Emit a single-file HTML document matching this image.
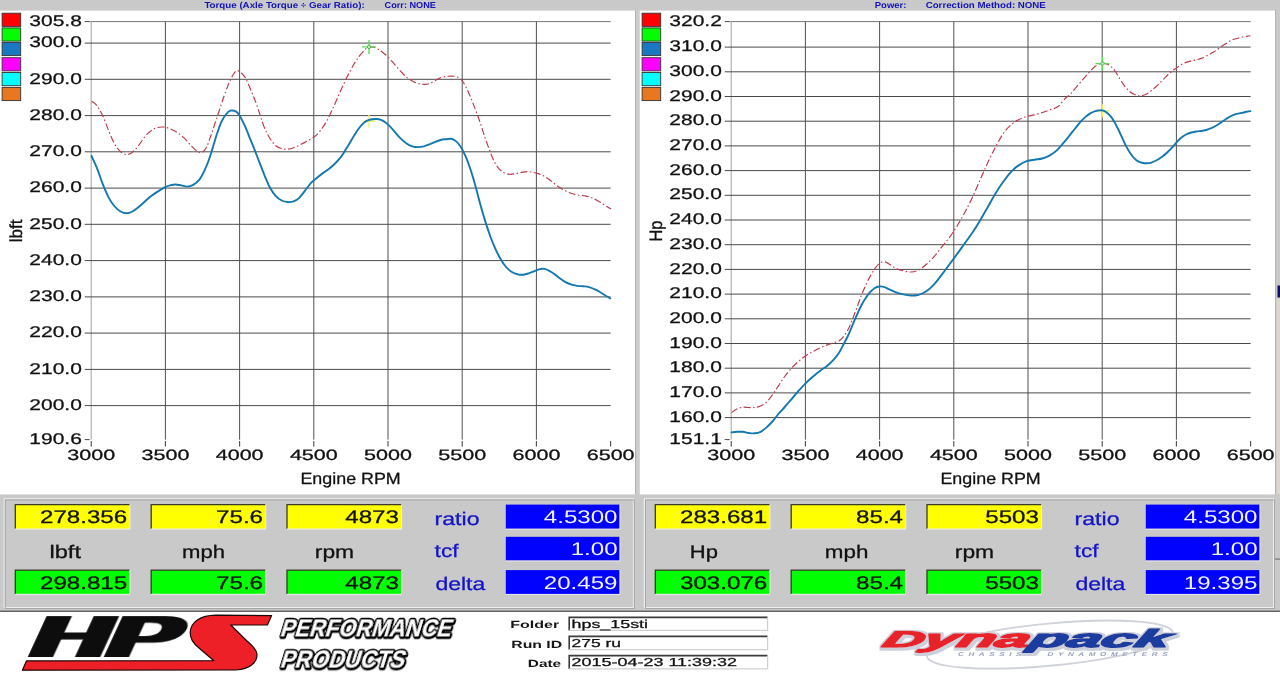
<!DOCTYPE html>
<html lang="en"><head><meta charset="utf-8"><title>Dynapack dyno chart</title>
<style>html,body{margin:0;padding:0;background:#fff;overflow:hidden}svg{display:block}text{white-space:pre}</style></head>
<body>
<svg width="1280" height="674" viewBox="0 0 1280 674" font-family="'Liberation Sans', sans-serif" text-rendering="geometricPrecision">
<rect width="1280" height="674" fill="#fff"/>
<g opacity="0.999">
<rect x="0" y="0" width="1280" height="10.6" fill="#c9c9c9"/>
<rect x="635.2" y="10" width="4.6" height="486" fill="#cdcdcd"/>
<rect x="635.0" y="10.6" width="1.1" height="484" fill="#b2b2b2"/>
<rect x="1275.3" y="10" width="5" height="550" fill="#c9c9c9"/>
<rect x="1275" y="10" width="1" height="549" fill="#b4b4b4"/>
<rect x="1277.5" y="285.5" width="3" height="12" fill="#101060"/>
<rect x="1276.5" y="298" width="4" height="196" fill="#dcd6cc"/>
<rect x="2.1" y="13.2" width="18.6" height="13.2" fill="#ff0000" stroke="#333" stroke-width="0.9"/>
<rect x="2.1" y="27.9" width="18.6" height="13.2" fill="#00ff00" stroke="#333" stroke-width="0.9"/>
<rect x="2.1" y="42.4" width="18.6" height="13.2" fill="#1a78c0" stroke="#333" stroke-width="0.9"/>
<rect x="2.1" y="57.7" width="18.6" height="13.2" fill="#ff00ff" stroke="#333" stroke-width="0.9"/>
<rect x="2.1" y="72.5" width="18.6" height="13.2" fill="#00ffff" stroke="#333" stroke-width="0.9"/>
<rect x="2.1" y="87.4" width="18.6" height="13.2" fill="#e87820" stroke="#333" stroke-width="0.9"/>
<path d="M91.2,439.6V21.6" fill="none" stroke="#b0b0b0" stroke-width="1.2"/>
<path d="M91.2,21.6H610.6" fill="none" stroke="#747474" stroke-width="1"/>
<path d="M84.7,43.1H610.6M84.7,79.3H610.6M84.7,115.6H610.6M84.7,151.8H610.6M84.7,188.1H610.6M84.7,224.3H610.6M84.7,260.6H610.6M84.7,296.9H610.6M84.7,333.1H610.6M84.7,369.4H610.6M84.7,405.6H610.6" fill="none" stroke="#4a4a4a" stroke-width="1.0"/>
<path d="M165.4,21.6V439.6M239.6,21.6V439.6M313.8,21.6V439.6M388.0,21.6V439.6M462.2,21.6V439.6M536.4,21.6V439.6" fill="none" stroke="#505050" stroke-width="1.0"/>
<path d="M84.7,21.6H90.4M84.7,439.6H89.7" stroke="#4a4a4a" stroke-width="1.0"/>
<path d="M91.2,441.0v5.6M165.4,441.0v5.6M239.6,441.0v5.6M313.8,441.0v5.6M388.0,441.0v5.6M462.2,441.0v5.6M536.4,441.0v5.6M610.6,441.0v5.6" stroke="#4a4a4a" stroke-width="1.1"/>
<text transform="translate(29.30,25.75) scale(1.3553,1)" font-size="15.49" fill="#111" stroke="#111" stroke-width="0.28">305.8</text>
<text transform="translate(29.30,47.25) scale(1.3553,1)" font-size="15.49" fill="#111" stroke="#111" stroke-width="0.28">300.0</text>
<text transform="translate(29.30,83.50) scale(1.3553,1)" font-size="15.49" fill="#111" stroke="#111" stroke-width="0.28">290.0</text>
<text transform="translate(29.30,119.75) scale(1.3553,1)" font-size="15.49" fill="#111" stroke="#111" stroke-width="0.28">280.0</text>
<text transform="translate(29.30,156.00) scale(1.3553,1)" font-size="15.49" fill="#111" stroke="#111" stroke-width="0.28">270.0</text>
<text transform="translate(29.30,192.25) scale(1.3553,1)" font-size="15.49" fill="#111" stroke="#111" stroke-width="0.28">260.0</text>
<text transform="translate(29.30,228.50) scale(1.3553,1)" font-size="15.49" fill="#111" stroke="#111" stroke-width="0.28">250.0</text>
<text transform="translate(29.30,264.75) scale(1.3553,1)" font-size="15.49" fill="#111" stroke="#111" stroke-width="0.28">240.0</text>
<text transform="translate(29.30,301.00) scale(1.3553,1)" font-size="15.49" fill="#111" stroke="#111" stroke-width="0.28">230.0</text>
<text transform="translate(29.30,337.25) scale(1.3553,1)" font-size="15.49" fill="#111" stroke="#111" stroke-width="0.28">220.0</text>
<text transform="translate(29.30,373.50) scale(1.3553,1)" font-size="15.49" fill="#111" stroke="#111" stroke-width="0.28">210.0</text>
<text transform="translate(29.30,409.75) scale(1.3553,1)" font-size="15.49" fill="#111" stroke="#111" stroke-width="0.28">200.0</text>
<text transform="translate(29.30,443.75) scale(1.3553,1)" font-size="15.49" fill="#111" stroke="#111" stroke-width="0.28">190.6</text>
<text transform="translate(67.30,460.35) scale(1.4420,1)" font-size="14.93" fill="#111" stroke="#111" stroke-width="0.28">3000</text>
<text transform="translate(141.50,460.35) scale(1.4420,1)" font-size="14.93" fill="#111" stroke="#111" stroke-width="0.28">3500</text>
<text transform="translate(215.70,460.35) scale(1.4420,1)" font-size="14.93" fill="#111" stroke="#111" stroke-width="0.28">4000</text>
<text transform="translate(289.90,460.35) scale(1.4420,1)" font-size="14.93" fill="#111" stroke="#111" stroke-width="0.28">4500</text>
<text transform="translate(364.10,460.35) scale(1.4420,1)" font-size="14.93" fill="#111" stroke="#111" stroke-width="0.28">5000</text>
<text transform="translate(438.30,460.35) scale(1.4420,1)" font-size="14.93" fill="#111" stroke="#111" stroke-width="0.28">5500</text>
<text transform="translate(512.50,460.35) scale(1.4420,1)" font-size="14.93" fill="#111" stroke="#111" stroke-width="0.28">6000</text>
<text transform="translate(586.70,460.35) scale(1.4420,1)" font-size="14.93" fill="#111" stroke="#111" stroke-width="0.28">6500</text>
<text transform="translate(300.40,484.00) scale(1.0981,1)" font-size="16.30" fill="#111" stroke="#111" stroke-width="0.28">Engine RPM</text>
<rect x="642.1" y="13.2" width="18.6" height="13.2" fill="#ff0000" stroke="#333" stroke-width="0.9"/>
<rect x="642.1" y="27.9" width="18.6" height="13.2" fill="#00ff00" stroke="#333" stroke-width="0.9"/>
<rect x="642.1" y="42.4" width="18.6" height="13.2" fill="#1a78c0" stroke="#333" stroke-width="0.9"/>
<rect x="642.1" y="57.7" width="18.6" height="13.2" fill="#ff00ff" stroke="#333" stroke-width="0.9"/>
<rect x="642.1" y="72.5" width="18.6" height="13.2" fill="#00ffff" stroke="#333" stroke-width="0.9"/>
<rect x="642.1" y="87.4" width="18.6" height="13.2" fill="#e87820" stroke="#333" stroke-width="0.9"/>
<path d="M731.2,439.6V21.6" fill="none" stroke="#b0b0b0" stroke-width="1.2"/>
<path d="M731.2,21.6H1250.6" fill="none" stroke="#747474" stroke-width="1"/>
<path d="M724.7,47.1H1250.6M724.7,71.8H1250.6M724.7,96.5H1250.6M724.7,121.2H1250.6M724.7,145.9H1250.6M724.7,170.6H1250.6M724.7,195.3H1250.6M724.7,220.0H1250.6M724.7,244.7H1250.6M724.7,269.4H1250.6M724.7,294.1H1250.6M724.7,318.8H1250.6M724.7,343.5H1250.6M724.7,368.2H1250.6M724.7,392.9H1250.6M724.7,417.6H1250.6" fill="none" stroke="#4a4a4a" stroke-width="1.0"/>
<path d="M805.4,21.6V439.6M879.6,21.6V439.6M953.8,21.6V439.6M1028.0,21.6V439.6M1102.2,21.6V439.6M1176.4,21.6V439.6" fill="none" stroke="#505050" stroke-width="1.0"/>
<path d="M724.7,21.6H730.4M724.7,439.6H729.7" stroke="#4a4a4a" stroke-width="1.0"/>
<path d="M731.2,441.0v5.6M805.4,441.0v5.6M879.6,441.0v5.6M953.8,441.0v5.6M1028.0,441.0v5.6M1102.2,441.0v5.6M1176.4,441.0v5.6M1250.6,441.0v5.6" stroke="#4a4a4a" stroke-width="1.1"/>
<text transform="translate(669.30,25.75) scale(1.3553,1)" font-size="15.49" fill="#111" stroke="#111" stroke-width="0.28">320.2</text>
<text transform="translate(669.30,51.25) scale(1.3553,1)" font-size="15.49" fill="#111" stroke="#111" stroke-width="0.28">310.0</text>
<text transform="translate(669.30,75.95) scale(1.3553,1)" font-size="15.49" fill="#111" stroke="#111" stroke-width="0.28">300.0</text>
<text transform="translate(669.30,100.65) scale(1.3553,1)" font-size="15.49" fill="#111" stroke="#111" stroke-width="0.28">290.0</text>
<text transform="translate(669.30,125.35) scale(1.3553,1)" font-size="15.49" fill="#111" stroke="#111" stroke-width="0.28">280.0</text>
<text transform="translate(669.30,150.05) scale(1.3553,1)" font-size="15.49" fill="#111" stroke="#111" stroke-width="0.28">270.0</text>
<text transform="translate(669.30,174.75) scale(1.3553,1)" font-size="15.49" fill="#111" stroke="#111" stroke-width="0.28">260.0</text>
<text transform="translate(669.30,199.45) scale(1.3553,1)" font-size="15.49" fill="#111" stroke="#111" stroke-width="0.28">250.0</text>
<text transform="translate(669.30,224.15) scale(1.3553,1)" font-size="15.49" fill="#111" stroke="#111" stroke-width="0.28">240.0</text>
<text transform="translate(669.30,248.85) scale(1.3553,1)" font-size="15.49" fill="#111" stroke="#111" stroke-width="0.28">230.0</text>
<text transform="translate(669.30,273.55) scale(1.3553,1)" font-size="15.49" fill="#111" stroke="#111" stroke-width="0.28">220.0</text>
<text transform="translate(669.30,298.25) scale(1.3553,1)" font-size="15.49" fill="#111" stroke="#111" stroke-width="0.28">210.0</text>
<text transform="translate(669.30,322.95) scale(1.3553,1)" font-size="15.49" fill="#111" stroke="#111" stroke-width="0.28">200.0</text>
<text transform="translate(669.30,347.65) scale(1.3553,1)" font-size="15.49" fill="#111" stroke="#111" stroke-width="0.28">190.0</text>
<text transform="translate(669.30,372.35) scale(1.3553,1)" font-size="15.49" fill="#111" stroke="#111" stroke-width="0.28">180.0</text>
<text transform="translate(669.30,397.05) scale(1.3553,1)" font-size="15.49" fill="#111" stroke="#111" stroke-width="0.28">170.0</text>
<text transform="translate(669.30,421.75) scale(1.3553,1)" font-size="15.49" fill="#111" stroke="#111" stroke-width="0.28">160.0</text>
<text transform="translate(669.30,443.74) scale(1.3362,1)" font-size="15.71" fill="#111" stroke="#111" stroke-width="0.28">151.1</text>
<text transform="translate(707.30,460.35) scale(1.4420,1)" font-size="14.93" fill="#111" stroke="#111" stroke-width="0.28">3000</text>
<text transform="translate(781.50,460.35) scale(1.4420,1)" font-size="14.93" fill="#111" stroke="#111" stroke-width="0.28">3500</text>
<text transform="translate(855.70,460.35) scale(1.4420,1)" font-size="14.93" fill="#111" stroke="#111" stroke-width="0.28">4000</text>
<text transform="translate(929.90,460.35) scale(1.4420,1)" font-size="14.93" fill="#111" stroke="#111" stroke-width="0.28">4500</text>
<text transform="translate(1004.10,460.35) scale(1.4420,1)" font-size="14.93" fill="#111" stroke="#111" stroke-width="0.28">5000</text>
<text transform="translate(1078.30,460.35) scale(1.4420,1)" font-size="14.93" fill="#111" stroke="#111" stroke-width="0.28">5500</text>
<text transform="translate(1152.50,460.35) scale(1.4420,1)" font-size="14.93" fill="#111" stroke="#111" stroke-width="0.28">6000</text>
<text transform="translate(1226.70,460.35) scale(1.4420,1)" font-size="14.93" fill="#111" stroke="#111" stroke-width="0.28">6500</text>
<text transform="translate(940.40,484.00) scale(1.0981,1)" font-size="16.30" fill="#111" stroke="#111" stroke-width="0.28">Engine RPM</text>
<path d="M91.5,101.2C92.4,101.9 95.0,103.1 96.9,105.6C98.8,108.1 100.8,111.8 102.8,116.0C104.8,120.2 106.7,126.1 108.7,130.8C110.7,135.5 112.7,140.7 114.7,144.2C116.7,147.7 118.6,149.9 120.6,151.6C122.6,153.3 124.5,154.5 126.5,154.6C128.5,154.7 130.4,153.7 132.4,152.2C134.4,150.7 136.4,148.2 138.4,145.7C140.4,143.2 142.3,139.8 144.3,137.4C146.3,135.0 148.2,133.0 150.2,131.4C152.2,129.8 154.1,128.6 156.2,127.9C158.3,127.2 160.5,126.9 162.7,127.0C164.9,127.1 167.1,127.6 169.5,128.5C171.9,129.4 174.4,130.7 176.9,132.3C179.4,133.9 181.8,135.9 184.3,138.2C186.8,140.5 189.6,144.1 191.8,146.3C194.0,148.5 196.0,150.6 197.7,151.6C199.4,152.6 200.6,153.2 202.1,152.5C203.6,151.8 205.1,150.0 206.6,147.1C208.1,144.2 209.5,139.5 211.0,135.3C212.5,131.1 214.0,126.4 215.5,121.9C217.0,117.5 218.4,113.0 219.9,108.6C221.4,104.1 222.9,99.4 224.4,95.2C225.9,91.0 227.3,86.9 228.8,83.4C230.3,80.0 231.8,76.6 233.3,74.5C234.8,72.4 235.7,70.1 237.7,70.6C239.7,71.1 242.9,74.0 245.1,77.4C247.3,80.8 249.1,86.1 251.1,90.8C253.1,95.5 254.9,99.7 257.0,105.6C259.1,111.5 261.8,121.0 263.9,126.4C266.0,131.8 267.8,135.0 269.8,138.2C271.8,141.4 273.8,144.0 275.8,145.7C277.8,147.4 279.7,148.0 281.7,148.6C283.7,149.2 285.6,149.3 287.6,149.2C289.6,149.0 291.6,148.4 293.6,147.7C295.6,147.0 297.3,146.2 299.5,145.1C301.7,144.0 304.4,142.6 306.9,141.2C309.4,139.8 312.1,138.5 314.3,136.8C316.5,135.1 318.2,133.3 320.2,130.8C322.2,128.3 324.2,125.4 326.2,121.9C328.2,118.5 330.1,114.3 332.1,110.1C334.1,105.9 336.0,101.2 338.0,96.7C340.0,92.2 342.0,87.6 344.0,83.4C346.0,79.2 347.9,75.2 349.9,71.5C351.9,67.8 353.8,64.2 355.8,61.1C357.8,58.0 360.1,55.2 361.8,53.1C363.5,51.0 364.9,49.4 366.2,48.4C367.5,47.4 368.6,47.1 369.8,46.9C371.0,46.7 372.2,46.8 373.6,47.2C375.0,47.6 376.6,48.5 378.1,49.3C379.6,50.1 380.8,50.9 382.5,52.2C384.2,53.5 386.5,55.3 388.5,57.3C390.5,59.3 392.4,61.8 394.4,64.1C396.4,66.4 398.3,68.8 400.3,70.9C402.3,73.0 404.2,75.2 406.2,76.9C408.2,78.6 410.2,79.9 412.2,81.0C414.2,82.1 416.1,82.9 418.1,83.4C420.1,84.0 422.0,84.3 424.0,84.3C426.0,84.3 427.3,84.5 430.0,83.4C432.7,82.3 437.4,79.0 440.4,77.8C443.4,76.6 445.9,76.5 448.2,76.3C450.5,76.0 452.1,76.0 454.0,76.3C455.9,76.6 458.1,77.1 459.7,78.2C461.3,79.3 462.2,80.5 463.6,82.8C465.0,85.0 466.6,88.2 468.2,91.7C469.8,95.2 471.5,99.5 473.3,104.1C475.1,108.7 477.2,114.0 479.1,119.5C481.0,125.0 483.0,131.6 484.8,136.9C486.6,142.2 488.3,147.0 489.9,151.2C491.5,155.4 493.0,159.1 494.5,162.0C496.0,164.9 497.5,167.1 499.1,168.9C500.7,170.7 502.4,171.9 504.2,172.8C506.0,173.7 508.0,174.2 509.9,174.3C511.8,174.4 513.8,173.9 515.7,173.6C517.6,173.3 519.6,172.7 521.5,172.4C523.4,172.1 525.4,171.6 527.3,171.6C529.2,171.6 531.2,172.0 533.1,172.4C535.0,172.8 537.0,173.2 538.9,173.9C540.8,174.6 542.8,175.5 544.7,176.6C546.6,177.7 548.6,179.1 550.5,180.5C552.4,181.9 554.4,183.7 556.3,185.1C558.2,186.5 560.2,187.8 562.1,189.0C564.0,190.2 566.0,191.3 567.9,192.1C569.8,192.9 571.7,193.5 573.6,194.0C575.5,194.5 577.5,194.9 579.4,195.2C581.3,195.5 583.3,195.5 585.2,195.9C587.1,196.3 589.1,196.8 591.0,197.5C592.9,198.2 594.9,199.2 596.8,200.2C598.7,201.2 600.7,202.5 602.6,203.7C604.5,204.9 607.0,206.6 608.4,207.5C609.8,208.4 610.6,208.8 611.0,209.1" fill="none" stroke="#c03848" stroke-width="1.15" stroke-dasharray="7 2.5 1.5 2.5"/>
<path d="M362.5,121.2h13.0M369.0,114.7v13.0" stroke="#f2f264" stroke-width="1.4" fill="none"/>
<path d="M91.5,156.0C92.4,158.0 95.0,163.2 96.9,167.9C98.8,172.6 100.8,179.2 102.8,184.2C104.8,189.1 106.7,193.9 108.7,197.6C110.7,201.3 112.7,204.2 114.7,206.5C116.7,208.8 118.6,210.4 120.6,211.5C122.6,212.6 124.5,213.3 126.5,213.3C128.5,213.3 130.4,212.5 132.4,211.5C134.4,210.5 136.4,208.9 138.4,207.3C140.4,205.7 142.3,203.8 144.3,202.0C146.3,200.2 148.0,198.4 150.2,196.7C152.4,195.0 155.2,193.2 157.7,191.6C160.2,190.0 162.9,188.3 165.1,187.2C167.3,186.1 169.3,185.5 171.0,185.1C172.7,184.7 173.8,184.4 175.5,184.5C177.2,184.6 179.4,185.1 181.4,185.4C183.4,185.8 185.3,186.7 187.3,186.6C189.3,186.5 191.2,185.9 193.2,184.8C195.2,183.7 197.5,181.9 199.2,179.8C200.9,177.7 202.1,175.3 203.6,172.3C205.1,169.3 206.6,165.9 208.1,162.0C209.6,158.1 211.0,153.3 212.5,148.6C214.0,143.9 215.5,138.2 217.0,133.8C218.5,129.4 219.9,125.1 221.4,121.9C222.9,118.7 224.4,116.4 225.9,114.5C227.4,112.6 228.6,111.2 230.3,110.7C232.0,110.2 234.6,110.7 236.2,111.6C237.8,112.5 238.3,113.5 239.8,116.0C241.3,118.5 243.2,122.2 245.1,126.4C247.0,130.6 249.1,136.3 251.1,141.2C253.1,146.1 254.9,150.6 257.0,156.0C259.1,161.4 261.8,168.6 263.9,173.8C266.0,179.0 267.8,183.5 269.8,187.2C271.8,190.9 273.8,193.9 275.8,196.1C277.8,198.3 279.7,199.5 281.7,200.5C283.7,201.5 285.6,201.8 287.6,202.0C289.6,202.2 291.6,202.1 293.6,201.4C295.6,200.7 297.5,199.5 299.5,197.6C301.5,195.7 303.4,192.6 305.4,190.1C307.4,187.6 309.3,184.8 311.3,182.7C313.3,180.6 315.3,179.0 317.3,177.4C319.3,175.8 321.2,174.3 323.2,172.9C325.2,171.5 327.1,170.4 329.1,168.8C331.1,167.2 333.1,165.5 335.1,163.5C337.1,161.5 339.3,159.1 341.0,156.9C342.7,154.7 343.9,152.5 345.4,150.1C346.9,147.7 348.4,145.2 349.9,142.7C351.4,140.2 352.8,137.7 354.3,135.3C355.8,132.9 357.3,130.5 358.8,128.5C360.3,126.5 361.7,124.8 363.2,123.4C364.7,122.1 366.2,121.1 367.7,120.4C369.2,119.7 370.6,119.5 372.1,119.3C373.6,119.1 375.1,118.9 376.6,119.0C378.1,119.1 379.5,119.3 381.0,119.9C382.5,120.5 384.0,121.4 385.5,122.5C387.0,123.6 388.4,124.9 389.9,126.4C391.4,127.9 392.7,129.4 394.4,131.4C396.1,133.4 398.3,136.2 400.3,138.2C402.3,140.2 404.2,142.0 406.2,143.3C408.2,144.7 410.2,145.7 412.2,146.3C414.2,146.9 416.1,147.1 418.1,147.1C420.1,147.1 422.0,146.8 424.0,146.3C426.0,145.8 427.3,145.2 430.0,144.2C432.7,143.1 437.7,140.8 440.4,140.0C443.1,139.2 444.4,139.4 446.2,139.2C448.0,139.0 449.7,138.5 451.3,138.8C452.9,139.1 454.4,139.8 455.9,141.1C457.4,142.4 458.9,144.0 460.5,146.5C462.1,149.0 463.8,152.3 465.5,156.2C467.2,160.1 469.0,164.9 470.6,169.7C472.2,174.5 473.7,179.6 475.2,185.1C476.7,190.6 478.2,196.7 479.8,202.5C481.4,208.3 483.1,214.4 484.8,219.9C486.5,225.4 488.3,230.8 489.9,235.3C491.5,239.8 492.8,243.0 494.5,246.9C496.2,250.8 498.4,255.2 500.3,258.5C502.2,261.9 504.2,264.8 506.1,267.0C508.0,269.2 510.0,270.8 511.9,272.0C513.8,273.2 515.8,273.9 517.7,274.3C519.6,274.8 521.6,274.9 523.5,274.7C525.4,274.5 527.3,273.8 529.2,273.2C531.1,272.6 533.1,271.5 535.0,270.8C536.9,270.1 539.2,269.2 540.8,268.9C542.4,268.6 543.3,268.6 544.7,268.9C546.1,269.2 547.7,270.0 549.3,270.8C550.9,271.6 552.5,272.6 554.3,273.9C556.1,275.2 558.2,277.2 560.1,278.6C562.0,280.0 564.0,281.4 565.9,282.4C567.8,283.4 569.8,284.1 571.7,284.7C573.6,285.3 575.6,285.6 577.5,285.9C579.4,286.2 581.4,286.1 583.3,286.3C585.2,286.5 587.2,286.6 589.1,287.1C591.0,287.6 593.0,288.5 594.9,289.4C596.8,290.3 598.8,291.4 600.7,292.5C602.6,293.6 604.9,295.3 606.5,296.3C608.1,297.3 609.7,298.0 610.3,298.3" fill="none" stroke="#1478b0" stroke-width="1.9" stroke-linecap="round"/>
<path d="M362.0,46.9h14M369.0,39.9v14" stroke="#5cdc5c" stroke-width="1.4" fill="none"/>
<circle cx="369.0" cy="46.9" r="1.7" fill="#fff" fill-opacity="0.6" stroke="#38a838" stroke-width="0.8"/>
<path d="M731.5,412.6C732.4,412.0 735.0,409.9 736.9,409.0C738.8,408.1 740.8,407.4 742.8,407.2C744.8,406.9 746.7,407.4 748.7,407.5C750.7,407.6 752.7,407.8 754.7,407.5C756.7,407.2 758.6,406.9 760.6,406.0C762.6,405.1 764.5,404.1 766.5,402.2C768.5,400.3 770.4,397.5 772.4,394.8C774.4,392.1 776.4,388.9 778.4,385.9C780.4,382.9 782.3,379.7 784.3,377.0C786.3,374.3 788.0,372.1 790.2,369.6C792.4,367.1 795.2,364.3 797.7,362.1C800.2,359.9 802.6,357.9 805.1,356.2C807.6,354.5 810.0,353.2 812.5,351.8C815.0,350.4 817.4,349.0 819.9,347.9C822.4,346.8 825.1,345.7 827.3,344.9C829.5,344.1 831.2,343.6 833.2,342.9C835.2,342.2 837.5,341.9 839.2,340.8C840.9,339.7 842.1,338.2 843.6,336.3C845.1,334.4 846.6,332.4 848.1,329.5C849.6,326.6 851.0,322.8 852.5,319.1C854.0,315.4 855.5,311.2 857.0,307.3C858.5,303.4 859.9,299.1 861.4,295.4C862.9,291.7 864.4,288.2 865.9,285.0C867.4,281.8 868.8,278.8 870.3,276.1C871.8,273.4 873.3,270.8 874.8,268.7C876.3,266.6 877.5,264.8 879.2,263.7C880.9,262.6 882.4,261.2 885.1,261.9C887.8,262.6 892.4,266.6 895.4,268.1C898.4,269.6 900.6,270.2 903.2,270.8C905.8,271.4 908.3,272.1 910.9,272.0C913.5,271.9 916.0,271.4 918.6,270.1C921.2,268.8 923.7,266.6 926.3,264.3C928.9,262.1 931.5,259.5 934.1,256.6C936.7,253.7 939.2,250.1 941.8,246.9C944.4,243.7 946.9,240.8 949.5,237.3C952.1,233.8 954.6,229.9 957.2,225.7C959.8,221.5 962.3,217.0 964.9,212.2C967.5,207.4 970.1,202.2 972.7,196.7C975.3,191.2 977.8,185.1 980.4,179.3C983.0,173.5 985.5,167.5 988.1,162.0C990.7,156.5 993.2,151.3 995.8,146.5C998.4,141.7 1001.0,136.7 1003.6,133.0C1006.2,129.3 1008.7,126.8 1011.3,124.5C1013.9,122.2 1016.4,120.8 1019.0,119.5C1021.6,118.2 1024.1,117.2 1026.7,116.4C1029.3,115.6 1031.8,115.6 1034.4,114.9C1037.0,114.2 1039.6,113.3 1042.2,112.5C1044.8,111.7 1047.3,110.8 1049.9,109.8C1052.5,108.8 1055.1,108.6 1057.6,106.8C1060.1,105.0 1062.9,100.8 1065.0,98.7C1067.1,96.6 1068.4,96.1 1070.1,94.4C1071.8,92.7 1073.4,90.6 1075.1,88.6C1076.8,86.6 1078.5,84.6 1080.2,82.6C1081.9,80.6 1083.5,78.7 1085.2,76.8C1086.9,74.9 1088.6,72.8 1090.3,71.0C1092.0,69.2 1093.6,67.4 1095.3,66.2C1097.0,65.0 1098.9,64.2 1100.4,63.7C1101.9,63.2 1102.8,63.3 1104.1,63.4C1105.3,63.5 1106.6,63.8 1107.9,64.4C1109.2,65.0 1110.4,66.0 1111.7,67.2C1113.0,68.4 1114.2,69.9 1115.5,71.7C1116.8,73.5 1118.0,76.1 1119.3,78.1C1120.6,80.1 1121.8,82.2 1123.1,83.9C1124.3,85.7 1125.5,87.2 1126.8,88.6C1128.0,90.0 1129.3,91.2 1130.6,92.2C1131.9,93.2 1133.1,93.8 1134.4,94.4C1135.7,95.0 1136.9,95.5 1138.2,95.7C1139.5,95.9 1140.5,96.0 1142.0,95.7C1143.5,95.4 1145.3,94.6 1147.0,93.7C1148.7,92.8 1150.4,91.6 1152.1,90.2C1153.8,88.8 1155.4,87.2 1157.1,85.6C1158.8,84.0 1160.4,82.3 1162.1,80.6C1163.8,78.9 1165.5,77.1 1167.2,75.5C1168.9,73.9 1170.7,72.2 1172.2,71.0C1173.8,69.8 1175.0,69.0 1176.5,68.0C1178.0,67.0 1179.5,65.6 1181.1,64.7C1182.7,63.8 1184.4,63.0 1186.1,62.4C1187.8,61.8 1189.5,61.3 1191.2,60.9C1192.9,60.5 1194.5,60.3 1196.2,59.9C1197.9,59.5 1199.5,59.0 1201.2,58.4C1202.9,57.8 1204.6,57.0 1206.3,56.1C1208.0,55.2 1209.6,54.3 1211.3,53.3C1213.0,52.3 1214.7,51.4 1216.4,50.3C1218.1,49.2 1219.7,47.7 1221.4,46.5C1223.1,45.3 1224.8,44.2 1226.5,43.2C1228.2,42.2 1229.8,41.0 1231.5,40.2C1233.2,39.4 1234.8,39.0 1236.5,38.5C1238.2,38.0 1239.9,37.6 1241.6,37.2C1243.3,36.9 1245.1,36.6 1246.6,36.4C1248.1,36.1 1249.8,35.8 1250.4,35.7" fill="none" stroke="#c03848" stroke-width="1.15" stroke-dasharray="7 2.5 1.5 2.5"/>
<path d="M1095.9,110.8h13.0M1102.4,104.3v13.0" stroke="#f2f264" stroke-width="1.4" fill="none"/>
<path d="M731.5,432.4C732.4,432.3 735.0,431.9 736.9,431.8C738.8,431.7 740.8,431.6 742.8,431.8C744.8,432.0 746.7,432.8 748.7,433.0C750.7,433.2 752.7,433.5 754.7,433.3C756.7,433.1 758.6,432.8 760.6,431.8C762.6,430.8 764.5,429.1 766.5,427.4C768.5,425.7 770.4,423.7 772.4,421.5C774.4,419.3 776.4,416.3 778.4,414.0C780.4,411.7 782.3,409.7 784.3,407.5C786.3,405.3 788.0,403.3 790.2,400.7C792.4,398.1 795.2,394.6 797.7,391.8C800.2,389.0 802.6,386.3 805.1,383.8C807.6,381.3 810.0,379.1 812.5,377.0C815.0,374.9 817.4,372.9 819.9,371.0C822.4,369.1 825.1,367.5 827.3,365.7C829.5,363.9 831.2,362.3 833.2,360.1C835.2,357.9 837.5,355.0 839.2,352.4C840.9,349.8 842.1,347.1 843.6,344.3C845.1,341.5 846.6,338.7 848.1,335.5C849.6,332.3 851.0,328.6 852.5,325.1C854.0,321.6 855.5,318.0 857.0,314.7C858.5,311.4 859.9,308.0 861.4,305.2C862.9,302.4 864.4,300.0 865.9,297.8C867.4,295.6 868.8,293.5 870.3,291.9C871.8,290.3 873.3,288.9 874.8,288.0C876.3,287.1 877.7,286.7 879.2,286.5C880.7,286.3 882.3,286.4 883.7,286.8C885.1,287.2 885.8,287.7 887.7,288.6C889.7,289.5 892.8,291.1 895.4,292.1C898.0,293.1 900.6,293.8 903.2,294.4C905.8,295.0 908.3,295.5 910.9,295.6C913.5,295.7 916.0,295.5 918.6,294.8C921.2,294.1 923.7,293.0 926.3,291.3C928.9,289.6 931.5,287.2 934.1,284.4C936.7,281.6 939.2,278.0 941.8,274.7C944.4,271.4 946.9,267.8 949.5,264.3C952.1,260.8 954.6,257.4 957.2,253.9C959.8,250.4 962.3,246.7 964.9,243.1C967.5,239.5 970.1,236.1 972.7,232.2C975.3,228.3 977.8,224.2 980.4,219.9C983.0,215.6 985.5,210.9 988.1,206.4C990.7,201.9 993.2,197.1 995.8,192.9C998.4,188.7 1001.0,184.9 1003.6,181.3C1006.2,177.8 1008.7,174.3 1011.3,171.6C1013.9,168.9 1016.4,166.8 1019.0,165.1C1021.6,163.4 1024.1,162.1 1026.7,161.2C1029.3,160.3 1031.8,160.1 1034.4,159.7C1037.0,159.2 1039.6,159.2 1042.2,158.5C1044.8,157.8 1047.3,156.9 1049.9,155.4C1052.5,153.9 1055.1,152.0 1057.6,149.6C1060.1,147.2 1062.9,143.6 1065.0,141.1C1067.1,138.6 1068.4,136.9 1070.1,134.8C1071.8,132.7 1073.4,130.6 1075.1,128.5C1076.8,126.4 1078.5,124.1 1080.2,122.2C1081.9,120.3 1083.5,118.6 1085.2,117.1C1086.9,115.6 1088.6,114.4 1090.3,113.4C1092.0,112.4 1093.6,111.6 1095.3,111.1C1097.0,110.6 1098.9,110.3 1100.4,110.3C1101.9,110.2 1102.8,110.3 1104.1,110.8C1105.3,111.3 1106.6,112.3 1107.9,113.4C1109.2,114.5 1110.4,115.8 1111.7,117.6C1113.0,119.4 1114.2,121.7 1115.5,124.0C1116.8,126.3 1118.0,128.9 1119.3,131.5C1120.6,134.1 1121.8,137.2 1123.1,139.8C1124.3,142.5 1125.5,145.1 1126.8,147.4C1128.0,149.7 1129.3,151.9 1130.6,153.7C1131.9,155.5 1133.1,157.0 1134.4,158.3C1135.7,159.6 1136.9,160.6 1138.2,161.3C1139.5,162.1 1140.5,162.5 1142.0,162.8C1143.5,163.1 1145.3,163.4 1147.0,163.3C1148.7,163.2 1150.4,162.9 1152.1,162.3C1153.8,161.8 1155.4,160.9 1157.1,160.0C1158.8,159.1 1160.4,157.9 1162.1,156.7C1163.8,155.4 1165.5,154.1 1167.2,152.5C1168.9,150.9 1170.7,149.1 1172.2,147.4C1173.8,145.7 1175.0,144.0 1176.5,142.4C1178.0,140.8 1179.5,139.1 1181.1,137.8C1182.7,136.5 1184.4,135.4 1186.1,134.5C1187.8,133.6 1189.5,133.0 1191.2,132.5C1192.9,132.0 1194.5,131.8 1196.2,131.5C1197.9,131.2 1199.5,131.2 1201.2,131.0C1202.9,130.8 1204.6,130.5 1206.3,130.0C1208.0,129.5 1209.6,128.9 1211.3,128.2C1213.0,127.4 1214.7,126.5 1216.4,125.5C1218.1,124.5 1219.7,123.3 1221.4,122.2C1223.1,121.1 1224.8,119.8 1226.5,118.7C1228.2,117.7 1229.8,116.7 1231.5,115.9C1233.2,115.1 1234.8,114.4 1236.5,113.9C1238.2,113.4 1239.9,113.2 1241.6,112.9C1243.3,112.6 1245.1,112.1 1246.6,111.8C1248.1,111.5 1249.8,111.2 1250.4,111.1" fill="none" stroke="#1478b0" stroke-width="1.9" stroke-linecap="round"/>
<path d="M1095.4,63.6h14M1102.4,56.6v14" stroke="#5cdc5c" stroke-width="1.4" fill="none"/>
<circle cx="1102.4" cy="63.6" r="1.7" fill="#fff" fill-opacity="0.6" stroke="#38a838" stroke-width="0.8"/>
<text transform="translate(22.00,242.30) rotate(-90) scale(1.1749,1.1998)" font-size="14.6" fill="#111" stroke="#111" stroke-width="0.28">lbft</text>
<text transform="translate(662.00,241.60) rotate(-90) scale(1.1237,1.2309)" font-size="14.6" fill="#111" stroke="#111" stroke-width="0.28">Hp</text>
<text transform="translate(204.40,8.30) scale(1.1208,1)" font-size="8.70" font-weight="bold" fill="#1212b8" >Torque (Axle Torque ÷ Gear Ratio):</text>
<text transform="translate(384.60,8.30) scale(1.0531,1)" font-size="8.70" font-weight="bold" fill="#1212b8" >Corr: NONE</text>
<text transform="translate(874.80,8.30) scale(1.0891,1)" font-size="8.70" font-weight="bold" fill="#1212b8" >Power:</text>
<text transform="translate(925.70,8.30) scale(1.1160,1)" font-size="8.70" font-weight="bold" fill="#1212b8" >Correction Method: NONE</text>
<rect x="0" y="494.4" width="1280" height="117" fill="#c9c9c9"/>
<rect x="0" y="610.6" width="1280" height="1.3" fill="#555"/>
<rect x="1275" y="558.5" width="5" height="1.2" fill="#777"/>
<rect x="4.2" y="498.8" width="629.1999999999999" height="108.80000000000001" fill="none" stroke="#eeeeee" stroke-width="1.2"/>
<rect x="5.300000000000001" y="499.90000000000003" width="628.9999999999999" height="108.60000000000001" fill="none" stroke="#a6a6a6" stroke-width="1"/>
<rect x="644.4" y="498.8" width="629.1999999999999" height="108.80000000000001" fill="none" stroke="#eeeeee" stroke-width="1.2"/>
<rect x="645.5" y="499.90000000000003" width="628.9999999999999" height="108.60000000000001" fill="none" stroke="#a6a6a6" stroke-width="1"/>
<rect x="15.3" y="504.6" width="114.3" height="24.199999999999932" fill="#ffff00"/>
<path d="M15.3,528.8V504.6H129.6" fill="none" stroke="#3a3a2a" stroke-width="1.3"/>
<path d="M15.3,529.0999999999999H129.9V504.6" fill="none" stroke="#f2f2f2" stroke-width="1"/>
<text transform="translate(40.02,523.20) scale(1.3250,1)" font-size="18.20" fill="#111" stroke="#111" stroke-width="0.28">278.356</text>
<rect x="151.2" y="504.6" width="114.19999999999999" height="24.199999999999932" fill="#ffff00"/>
<path d="M151.2,528.8V504.6H265.4" fill="none" stroke="#3a3a2a" stroke-width="1.3"/>
<path d="M151.2,529.0999999999999H265.7V504.6" fill="none" stroke="#f2f2f2" stroke-width="1"/>
<text transform="translate(216.10,523.20) scale(1.3250,1)" font-size="18.20" fill="#111" stroke="#111" stroke-width="0.28">75.6</text>
<rect x="287.0" y="504.6" width="114.30000000000001" height="24.199999999999932" fill="#ffff00"/>
<path d="M287.0,528.8V504.6H401.3" fill="none" stroke="#3a3a2a" stroke-width="1.3"/>
<path d="M287.0,529.0999999999999H401.6V504.6" fill="none" stroke="#f2f2f2" stroke-width="1"/>
<text transform="translate(345.24,523.20) scale(1.3250,1)" font-size="18.20" fill="#111" stroke="#111" stroke-width="0.28">4873</text>
<rect x="15.3" y="570.1" width="114.3" height="23.899999999999977" fill="#00ff00"/>
<path d="M15.3,594.0V570.1H129.6" fill="none" stroke="#3a3a2a" stroke-width="1.3"/>
<path d="M15.3,594.3H129.9V570.1" fill="none" stroke="#f2f2f2" stroke-width="1"/>
<text transform="translate(40.02,588.60) scale(1.3250,1)" font-size="18.20" fill="#111" stroke="#111" stroke-width="0.28">298.815</text>
<rect x="151.2" y="570.1" width="114.19999999999999" height="23.899999999999977" fill="#00ff00"/>
<path d="M151.2,594.0V570.1H265.4" fill="none" stroke="#3a3a2a" stroke-width="1.3"/>
<path d="M151.2,594.3H265.7V570.1" fill="none" stroke="#f2f2f2" stroke-width="1"/>
<text transform="translate(216.10,588.60) scale(1.3250,1)" font-size="18.20" fill="#111" stroke="#111" stroke-width="0.28">75.6</text>
<rect x="287.0" y="570.1" width="114.30000000000001" height="23.899999999999977" fill="#00ff00"/>
<path d="M287.0,594.0V570.1H401.3" fill="none" stroke="#3a3a2a" stroke-width="1.3"/>
<path d="M287.0,594.3H401.6V570.1" fill="none" stroke="#f2f2f2" stroke-width="1"/>
<text transform="translate(345.24,588.60) scale(1.3250,1)" font-size="18.20" fill="#111" stroke="#111" stroke-width="0.28">4873</text>
<text transform="translate(49.50,558.40) scale(1.2965,1)" font-size="18.20" fill="#111" stroke="#111" stroke-width="0.28">lbft</text>
<text transform="translate(182.00,558.40) scale(1.2147,1)" font-size="18.20" fill="#111" stroke="#111" stroke-width="0.28">mph</text>
<text transform="translate(314.80,558.40) scale(1.2554,1)" font-size="18.20" fill="#111" stroke="#111" stroke-width="0.28">rpm</text>
<text transform="translate(434.60,525.00) scale(1.2684,1)" font-size="18.20" fill="#1212c8" stroke="#1212c8" stroke-width="0.28">ratio</text>
<text transform="translate(434.60,557.40) scale(1.2492,1)" font-size="18.20" fill="#1212c8" stroke="#1212c8" stroke-width="0.28">tcf</text>
<text transform="translate(435.40,590.00) scale(1.2635,1)" font-size="18.20" fill="#1212c8" stroke="#1212c8" stroke-width="0.28">delta</text>
<rect x="505.8" y="504.6" width="113.9" height="24.199999999999932" fill="#0000fe"/>
<path d="M505.8,529.1999999999999H620.0V504.6" fill="none" stroke="#e8e8e8" stroke-width="1"/>
<text transform="translate(543.81,523.30) scale(1.3250,1)" font-size="18.20" fill="#f4f4ff" stroke="none">4.5300</text>
<rect x="505.8" y="536.8" width="113.9" height="23.800000000000068" fill="#0000fe"/>
<path d="M505.8,561.0H620.0V536.8" fill="none" stroke="#e8e8e8" stroke-width="1"/>
<text transform="translate(570.70,555.00) scale(1.3250,1)" font-size="18.20" fill="#f4f4ff" stroke="none">1.00</text>
<rect x="505.8" y="570.1" width="113.9" height="23.899999999999977" fill="#0000fe"/>
<path d="M505.8,594.4H620.0V570.1" fill="none" stroke="#e8e8e8" stroke-width="1"/>
<text transform="translate(543.81,588.50) scale(1.3250,1)" font-size="18.20" fill="#f4f4ff" stroke="none">20.459</text>
<rect x="655.3" y="504.6" width="114.30000000000007" height="24.199999999999932" fill="#ffff00"/>
<path d="M655.3,528.8V504.6H769.6" fill="none" stroke="#3a3a2a" stroke-width="1.3"/>
<path d="M655.3,529.0999999999999H769.9V504.6" fill="none" stroke="#f2f2f2" stroke-width="1"/>
<text transform="translate(680.02,523.20) scale(1.3250,1)" font-size="18.20" fill="#111" stroke="#111" stroke-width="0.28">283.681</text>
<rect x="791.2" y="504.6" width="114.19999999999993" height="24.199999999999932" fill="#ffff00"/>
<path d="M791.2,528.8V504.6H905.4" fill="none" stroke="#3a3a2a" stroke-width="1.3"/>
<path d="M791.2,529.0999999999999H905.6999999999999V504.6" fill="none" stroke="#f2f2f2" stroke-width="1"/>
<text transform="translate(856.10,523.20) scale(1.3250,1)" font-size="18.20" fill="#111" stroke="#111" stroke-width="0.28">85.4</text>
<rect x="927.0" y="504.6" width="114.29999999999995" height="24.199999999999932" fill="#ffff00"/>
<path d="M927.0,528.8V504.6H1041.3" fill="none" stroke="#3a3a2a" stroke-width="1.3"/>
<path d="M927.0,529.0999999999999H1041.6V504.6" fill="none" stroke="#f2f2f2" stroke-width="1"/>
<text transform="translate(985.24,523.20) scale(1.3250,1)" font-size="18.20" fill="#111" stroke="#111" stroke-width="0.28">5503</text>
<rect x="655.3" y="570.1" width="114.30000000000007" height="23.899999999999977" fill="#00ff00"/>
<path d="M655.3,594.0V570.1H769.6" fill="none" stroke="#3a3a2a" stroke-width="1.3"/>
<path d="M655.3,594.3H769.9V570.1" fill="none" stroke="#f2f2f2" stroke-width="1"/>
<text transform="translate(680.02,588.60) scale(1.3250,1)" font-size="18.20" fill="#111" stroke="#111" stroke-width="0.28">303.076</text>
<rect x="791.2" y="570.1" width="114.19999999999993" height="23.899999999999977" fill="#00ff00"/>
<path d="M791.2,594.0V570.1H905.4" fill="none" stroke="#3a3a2a" stroke-width="1.3"/>
<path d="M791.2,594.3H905.6999999999999V570.1" fill="none" stroke="#f2f2f2" stroke-width="1"/>
<text transform="translate(856.10,588.60) scale(1.3250,1)" font-size="18.20" fill="#111" stroke="#111" stroke-width="0.28">85.4</text>
<rect x="927.0" y="570.1" width="114.29999999999995" height="23.899999999999977" fill="#00ff00"/>
<path d="M927.0,594.0V570.1H1041.3" fill="none" stroke="#3a3a2a" stroke-width="1.3"/>
<path d="M927.0,594.3H1041.6V570.1" fill="none" stroke="#f2f2f2" stroke-width="1"/>
<text transform="translate(985.24,588.60) scale(1.3250,1)" font-size="18.20" fill="#111" stroke="#111" stroke-width="0.28">5503</text>
<text transform="translate(689.80,558.40) scale(1.2105,1)" font-size="18.20" fill="#111" stroke="#111" stroke-width="0.28">Hp</text>
<text transform="translate(824.80,558.40) scale(1.2317,1)" font-size="18.20" fill="#111" stroke="#111" stroke-width="0.28">mph</text>
<text transform="translate(954.80,558.40) scale(1.2554,1)" font-size="18.20" fill="#111" stroke="#111" stroke-width="0.28">rpm</text>
<text transform="translate(1074.60,525.00) scale(1.2684,1)" font-size="18.20" fill="#1212c8" stroke="#1212c8" stroke-width="0.28">ratio</text>
<text transform="translate(1074.60,557.40) scale(1.2492,1)" font-size="18.20" fill="#1212c8" stroke="#1212c8" stroke-width="0.28">tcf</text>
<text transform="translate(1075.40,590.00) scale(1.2635,1)" font-size="18.20" fill="#1212c8" stroke="#1212c8" stroke-width="0.28">delta</text>
<rect x="1145.8" y="504.6" width="113.9" height="24.199999999999932" fill="#0000fe"/>
<path d="M1145.8,529.1999999999999H1260.0V504.6" fill="none" stroke="#e8e8e8" stroke-width="1"/>
<text transform="translate(1183.81,523.30) scale(1.3250,1)" font-size="18.20" fill="#f4f4ff" stroke="none">4.5300</text>
<rect x="1145.8" y="536.8" width="113.9" height="23.800000000000068" fill="#0000fe"/>
<path d="M1145.8,561.0H1260.0V536.8" fill="none" stroke="#e8e8e8" stroke-width="1"/>
<text transform="translate(1210.70,555.00) scale(1.3250,1)" font-size="18.20" fill="#f4f4ff" stroke="none">1.00</text>
<rect x="1145.8" y="570.1" width="113.9" height="23.899999999999977" fill="#0000fe"/>
<path d="M1145.8,594.4H1260.0V570.1" fill="none" stroke="#e8e8e8" stroke-width="1"/>
<text transform="translate(1183.81,588.50) scale(1.3250,1)" font-size="18.20" fill="#f4f4ff" stroke="none">19.395</text>
<defs><filter id="fat" x="-10%" y="-10%" width="120%" height="120%"><feMorphology operator="dilate" radius="3.0 0.2"/></filter><filter id="sh" x="-5%" y="-10%" width="110%" height="130%"><feDropShadow dx="1.1" dy="1.2" stdDeviation="0" flood-color="#000"/></filter><filter id="sil" x="-5%" y="-20%" width="110%" height="140%"><feMorphology in="SourceAlpha" operator="dilate" radius="1.6 1.6" result="d"/><feFlood flood-color="#cdd0da"/><feComposite in2="d" operator="in" result="o"/><feOffset in="o" dx="1.2" dy="1.0" result="o2"/><feMerge><feMergeNode in="o2"/><feMergeNode in="SourceGraphic"/></feMerge></filter></defs>
<path d="M271.6,615.6L216,615.2C200,615.5 191,622 190.2,632C189.8,639 194,644 199,648L213.9,660.7L26.4,660.9L22.4,670.2L236,670C250,669.5 257.5,662 257,654C256.5,649 252,645.5 247,641L230.8,625L267.4,625Z" fill="#ee2027" stroke="#1a0505" stroke-width="1.2" stroke-linejoin="round"/>
<text transform="translate(207,652) skewX(-24.8) scale(1.3,1)" font-size="22" font-weight="bold" fill="#ee2027">S</text>
<text transform="translate(25.6,657.0) skewX(-24.8) scale(1.79,1)" font-size="59.4" font-weight="bold" fill="#0a0a0a" letter-spacing="-0.5" filter="url(#fat)">HP</text>
<text transform="translate(279.40,636.2) skewX(-17) scale(0.9019,1)" font-size="24.2" font-weight="bold" fill="#fff" stroke="#000" stroke-width="3.3" paint-order="stroke" stroke-linejoin="round" filter="url(#sh)">PERFORMANCE</text>
<text transform="translate(279.40,667.4) skewX(-17) scale(0.9134,1)" font-size="24.2" font-weight="bold" fill="#fff" stroke="#000" stroke-width="3.3" paint-order="stroke" stroke-linejoin="round" filter="url(#sh)">PRODUCTS</text>
<rect x="569.2" y="617.4" width="198.39999999999998" height="13.0" fill="#fff"/>
<path d="M569.2,630.4V617.4H767.6" fill="none" stroke="#3c3c3c" stroke-width="1.6"/>
<path d="M569.2,630.4H767.6V617.4" fill="none" stroke="#cfcfcf" stroke-width="1.2"/>
<text transform="translate(510.20,628.30) scale(1.5422,1)" font-size="10.40" font-weight="bold" fill="#161616" >Folder</text>
<text transform="translate(571.60,628.00) scale(1.5388,1)" font-size="11.60" fill="#111" stroke="#111" stroke-width="0.28">hps_15sti</text>
<rect x="569.2" y="636.4" width="198.39999999999998" height="13.200000000000045" fill="#fff"/>
<path d="M569.2,649.6V636.4H767.6" fill="none" stroke="#3c3c3c" stroke-width="1.6"/>
<path d="M569.2,649.6H767.6V636.4" fill="none" stroke="#cfcfcf" stroke-width="1.2"/>
<text transform="translate(511.20,647.50) scale(1.5229,1)" font-size="10.40" font-weight="bold" fill="#161616" >Run ID</text>
<text transform="translate(571.60,647.20) scale(1.5022,1)" font-size="11.60" fill="#111" stroke="#111" stroke-width="0.28">275 ru</text>
<rect x="569.2" y="655.6" width="198.39999999999998" height="13.199999999999932" fill="#fff"/>
<path d="M569.2,668.8V655.6H767.6" fill="none" stroke="#3c3c3c" stroke-width="1.6"/>
<path d="M569.2,668.8H767.6V655.6" fill="none" stroke="#cfcfcf" stroke-width="1.2"/>
<text transform="translate(527.80,666.70) scale(1.4800,1)" font-size="10.40" font-weight="bold" fill="#161616" >Date</text>
<text transform="translate(571.60,666.40) scale(1.5482,1)" font-size="11.60" fill="#111" stroke="#111" stroke-width="0.28">2015-04-23 11:39:32</text>
<ellipse cx="1050" cy="644.6" rx="123.5" ry="21" transform="rotate(-5.5 1050 644.6)" fill="none" stroke="#cfd2da" stroke-width="1.8"/>
<g filter="url(#sil)"><text transform="translate(881.0,647.0) skewX(-22) scale(2.53,1)" font-size="24.8" font-weight="bold" font-style="italic" stroke-width="1.5" paint-order="stroke" stroke-linejoin="round" letter-spacing="-0.3"><tspan fill="#e8242c" stroke="#e8242c" font-size="22.4">D</tspan><tspan fill="#e8242c" stroke="#e8242c">yna</tspan><tspan fill="#1c3ca0" stroke="#1c3ca0">pack</tspan></text></g>
<text transform="translate(957.5,655.6) skewX(-18) scale(1.45,1)" font-size="5.6" font-weight="bold" fill="#98a2bc" letter-spacing="3.15">CHASSIS</text>
<text transform="translate(1047,655.6) skewX(-18) scale(1.45,1)" font-size="5.6" font-weight="bold" fill="#98a2bc" letter-spacing="3.15">DYNAMOMETERS</text>
</g></svg>
</body></html>
